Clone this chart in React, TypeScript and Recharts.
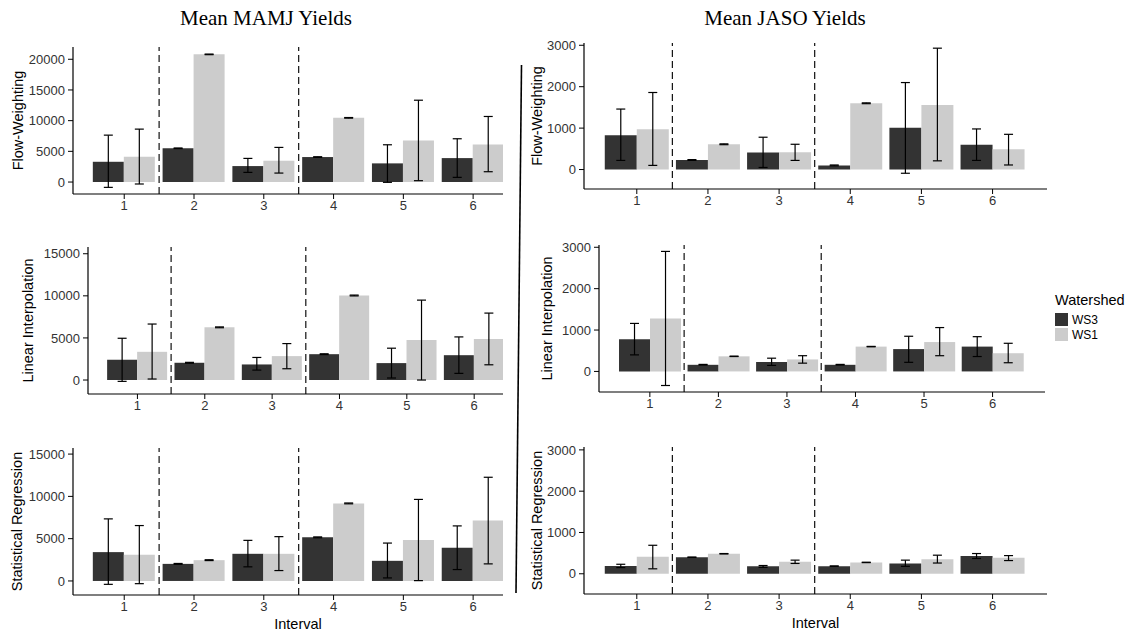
import React from 'react'
import { Bar, BarChart, ErrorBar, ReferenceLine, XAxis, YAxis } from 'recharts'

const intervals = [1, 2, 3, 4, 5, 6]
const breaks = [1.5, 3.5]

// MAMJ, flow-weighting
const mamjFlowWs3 = [3300, 5500, 2600, 4070, 3040, 3900]
const mamjFlowWs3Low = [-870, 5450, 1570, 4020, -50, 760]
const mamjFlowWs3High = [7640, 5550, 3850, 4120, 6070, 7050]
const mamjFlowWs1 = [4120, 20800, 3470, 10460, 6780, 6130]
const mamjFlowWs1Low = [-320, 20750, 1460, 10410, 220, 1680]
const mamjFlowWs1High = [8620, 20850, 5640, 10510, 13330, 10680]

// MAMJ, linear interpolation
const mamjLinWs3 = [2400, 2050, 1850, 3070, 2010, 2950]
const mamjLinWs3Low = [-160, 2000, 1180, 3020, 240, 790]
const mamjLinWs3High = [4960, 2100, 2680, 3120, 3780, 5120]
const mamjLinWs1 = [3350, 6260, 2840, 10040, 4760, 4880]
const mamjLinWs1Low = [120, 6210, 1340, 9990, 0, 1810]
const mamjLinWs1High = [6650, 6310, 4330, 10090, 9490, 7950]

// MAMJ, statistical regression
const mamjRegWs3 = [3410, 2020, 3210, 5160, 2380, 3930]
const mamjRegWs3Low = [-400, 1970, 1670, 5110, 360, 1350]
const mamjRegWs3High = [7340, 2070, 4800, 5210, 4480, 6510]
const mamjRegWs1 = [3100, 2460, 3210, 9170, 4840, 7140]
const mamjRegWs1Low = [-320, 2410, 1230, 9120, 40, 2020]
const mamjRegWs1High = [6550, 2510, 5240, 9220, 9640, 12260]

// JASO, flow-weighting
const jasoFlowWs3 = [830, 230, 410, 100, 1010, 600]
const jasoFlowWs3Low = [220, 220, 50, 90, -90, 220]
const jasoFlowWs3High = [1460, 240, 780, 110, 2100, 980]
const jasoFlowWs1 = [970, 610, 420, 1600, 1560, 490]
const jasoFlowWs1Low = [100, 600, 220, 1590, 210, 110]
const jasoFlowWs1High = [1860, 620, 610, 1610, 2930, 850]

// JASO, linear interpolation
const jasoLinWs3 = [780, 160, 230, 160, 540, 600]
const jasoLinWs3Low = [400, 155, 145, 155, 220, 360]
const jasoLinWs3High = [1160, 170, 320, 170, 850, 840]
const jasoLinWs1 = [1280, 365, 290, 600, 710, 440]
const jasoLinWs1Low = [-340, 360, 200, 595, 380, 210]
const jasoLinWs1High = [2900, 370, 380, 605, 1060, 680]

// JASO, statistical regression
const jasoRegWs3 = [190, 400, 180, 185, 250, 430]
const jasoRegWs3Low = [150, 395, 155, 180, 180, 370]
const jasoRegWs3High = [230, 405, 200, 190, 330, 490]
const jasoRegWs1 = [410, 485, 290, 275, 350, 390]
const jasoRegWs1Low = [120, 480, 250, 270, 260, 320]
const jasoRegWs1High = [690, 490, 330, 280, 450, 440]

const mamjTicks = [0, 5000, 10000, 15000, 20000]
const mamjTicksSmall = [0, 5000, 10000, 15000]
const jasoTicks = [0, 1000, 2000, 3000]

const DARK = '#333333'
const LIGHT = '#cccccc'
const SANS = '"Liberation Sans", Arial, sans-serif'
const SERIF = '"Liberation Serif", "Times New Roman", serif'

type Box = { left: number; top: number; right: number; bottom: number }

type PanelProps = {
  label: string
  ws3: number[]
  ws3Low: number[]
  ws3High: number[]
  ws1: number[]
  ws1Low: number[]
  ws1High: number[]
  colX: number
  labelX: number
  box: Box
  yDomain: [number, number]
  yTicks: number[]
  xDomain: [number, number]
  showInterval?: boolean
  intervalDx?: number
}

function Panel(p: PanelProps) {
  const rows = intervals.map((interval, i) => ({
    interval,
    ws3: p.ws3[i],
    ws1: p.ws1[i],
    ws3Err: [p.ws3[i] - p.ws3Low[i], p.ws3High[i] - p.ws3[i]],
    ws1Err: [p.ws1[i] - p.ws1Low[i], p.ws1High[i] - p.ws1[i]],
  }))
  const padTop = 10
  const padRight = 10
  const xAxisH = p.showInterval ? 40 : 30
  const yAxisW = p.box.left - p.colX
  const width = p.box.right - p.colX + padRight
  const height = p.box.bottom - p.box.top + padTop + xAxisH
  const tick = { fill: '#333', fontSize: 13, fontFamily: SANS }

  return (
    <div style={{ position: 'absolute', left: p.colX, top: p.box.top - padTop }}>
      <BarChart
        width={width}
        height={height}
        data={rows}
        margin={{ top: padTop, right: padRight, left: 0, bottom: 0 }}
        barCategoryGap="5%"
        barGap={0}
      >
        <XAxis
          type="number"
          dataKey="interval"
          domain={p.xDomain}
          ticks={intervals}
          allowDataOverflow
          height={xAxisH}
          tick={tick}
          tickSize={5}
          tickMargin={2}
          axisLine={{ stroke: '#000', strokeWidth: 1.2 }}
          tickLine={{ stroke: '#000' }}
          label={p.showInterval ? { value: 'Interval', position: 'insideBottom', offset: 6, dx: p.intervalDx ?? 0, style: { fill: '#000', fontSize: 14.5, fontFamily: SANS } } : undefined}
        />
        <YAxis
          type="number"
          domain={p.yDomain}
          ticks={p.yTicks}
          allowDataOverflow
          width={yAxisW}
          tick={tick}
          tickSize={5}
          tickMargin={3}
          axisLine={{ stroke: '#000', strokeWidth: 1.2 }}
          tickLine={{ stroke: '#000' }}
          label={{ value: p.label, angle: -90, position: 'insideLeft', offset: p.labelX - p.colX, style: { textAnchor: 'middle', fill: '#000', fontSize: 14.5, fontFamily: SANS } }}
        />
        {breaks.map(b => (
          <ReferenceLine key={b} x={b} stroke="#111" strokeWidth={1.2} strokeDasharray="7 4" />
        ))}
        <Bar dataKey="ws3" fill={DARK} isAnimationActive={false}>
          <ErrorBar dataKey="ws3Err" width={4.5} stroke="#000" strokeWidth={1.2} isAnimationActive={false} />
        </Bar>
        <Bar dataKey="ws1" fill={LIGHT} isAnimationActive={false}>
          <ErrorBar dataKey="ws1Err" width={4.5} stroke="#000" strokeWidth={1.2} isAnimationActive={false} />
        </Bar>
      </BarChart>
    </div>
  )
}

const leftX: [number, number] = [0.266, 6.428]
const rightX: [number, number] = [0.258, 6.765]

export default function App() {
  return (
    <div style={{ position: 'absolute', left: 0, top: 0, width: 1139, height: 636, background: '#fff', fontFamily: SANS, overflow: 'hidden' }}>
      <div style={{ position: 'absolute', left: 166, width: 200, top: 6, textAlign: 'center', fontFamily: SERIF, fontSize: 21, color: '#000' }}>Mean MAMJ Yields</div>
      <div style={{ position: 'absolute', left: 685, width: 200, top: 6, textAlign: 'center', fontFamily: SERIF, fontSize: 21, color: '#000' }}>Mean JASO Yields</div>

      <Panel label="Flow-Weighting" ws3={mamjFlowWs3} ws3Low={mamjFlowWs3Low} ws3High={mamjFlowWs3High}
        ws1={mamjFlowWs1} ws1Low={mamjFlowWs1Low} ws1High={mamjFlowWs1High}
        colX={0} labelX={18} box={{ left: 73, top: 47, right: 503, bottom: 194 }}
        yDomain={[-1950, 22000]} yTicks={mamjTicks} xDomain={leftX} />
      <Panel label="Linear Interpolation" ws3={mamjLinWs3} ws3Low={mamjLinWs3Low} ws3High={mamjLinWs3High}
        ws1={mamjLinWs1} ws1Low={mamjLinWs1Low} ws1High={mamjLinWs1High}
        colX={0} labelX={28} box={{ left: 88, top: 247, right: 503, bottom: 394 }}
        yDomain={[-1660, 15800]} yTicks={mamjTicksSmall} xDomain={leftX} />
      <Panel label="Statistical Regression" ws3={mamjRegWs3} ws3Low={mamjRegWs3Low} ws3High={mamjRegWs3High}
        ws1={mamjRegWs1} ws1Low={mamjRegWs1Low} ws1High={mamjRegWs1High}
        colX={0} labelX={17} box={{ left: 73, top: 448, right: 503, bottom: 595 }}
        yDomain={[-1660, 15720]} yTicks={mamjTicksSmall} xDomain={leftX} showInterval intervalDx={10} />

      <Panel label="Flow-Weighting" ws3={jasoFlowWs3} ws3Low={jasoFlowWs3Low} ws3High={jasoFlowWs3High}
        ws1={jasoFlowWs1} ws1Low={jasoFlowWs1Low} ws1High={jasoFlowWs1High}
        colX={524} labelX={537} box={{ left: 584, top: 43, right: 1047, bottom: 189 }}
        yDomain={[-470, 3055]} yTicks={jasoTicks} xDomain={rightX} />
      <Panel label="Linear Interpolation" ws3={jasoLinWs3} ws3Low={jasoLinWs3Low} ws3High={jasoLinWs3High}
        ws1={jasoLinWs1} ws1Low={jasoLinWs1Low} ws1High={jasoLinWs1High}
        colX={524} labelX={547} box={{ left: 599, top: 245, right: 1045, bottom: 392 }}
        yDomain={[-497, 3055]} yTicks={jasoTicks} xDomain={rightX} />
      <Panel label="Statistical Regression" ws3={jasoRegWs3} ws3Low={jasoRegWs3Low} ws3High={jasoRegWs3High}
        ws1={jasoRegWs1} ws1Low={jasoRegWs1Low} ws1High={jasoRegWs1High}
        colX={524} labelX={537} box={{ left: 584, top: 447, right: 1047, bottom: 594 }}
        yDomain={[-490, 3070]} yTicks={jasoTicks} xDomain={rightX} showInterval />

      <svg width={1139} height={636} style={{ position: 'absolute', left: 0, top: 0, pointerEvents: 'none' }}>
        <line x1={521.5} y1={65} x2={516} y2={593} stroke="#000" strokeWidth={1.6} />
      </svg>

      <div style={{ position: 'absolute', left: 1055, top: 292, fontSize: 14.5, color: '#000' }}>Watershed</div>
      <div style={{ position: 'absolute', left: 1055, top: 312, fontSize: 12, color: '#000' }}>
        <div style={{ display: 'flex', alignItems: 'center', height: 15 }}>
          <span style={{ width: 13, height: 13, background: DARK, display: 'inline-block', marginRight: 4 }} />WS3
        </div>
        <div style={{ display: 'flex', alignItems: 'center', height: 15 }}>
          <span style={{ width: 13, height: 13, background: LIGHT, display: 'inline-block', marginRight: 4 }} />WS1
        </div>
      </div>
    </div>
  )
}
